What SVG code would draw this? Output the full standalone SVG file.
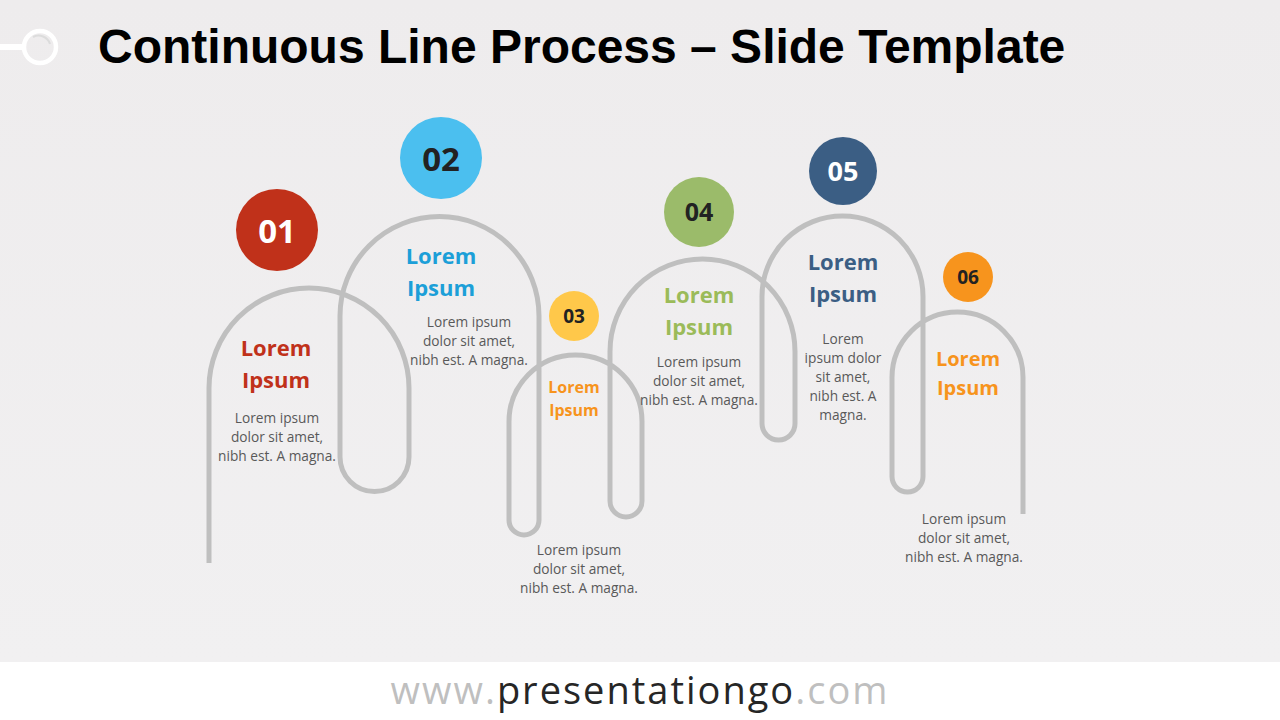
<svg xmlns="http://www.w3.org/2000/svg" width="1280" height="720" viewBox="0 0 1280 720">
<defs>
<linearGradient id="bg" x1="0" y1="0" x2="0" y2="1">
<stop offset="0" stop-color="#eeeced"/>
<stop offset="1" stop-color="#f1f0f1"/>
</linearGradient>
</defs>
<style>
.line{fill:none;stroke:#bfbfbf;stroke-width:5;stroke-linecap:butt}
.num{font-family:"Open Sans","Noto Sans",sans-serif;font-weight:bold;text-anchor:middle}
.head{font-family:"Open Sans","Noto Sans",sans-serif;font-weight:bold;text-anchor:middle}
.body{font-family:"Open Sans","Noto Sans",sans-serif;font-size:13.7px;fill:#595959;text-anchor:middle}
</style>
<rect x="0" y="0" width="1280" height="662" fill="url(#bg)"/>
<rect x="0" y="662" width="1280" height="58" fill="#ffffff"/>
<g id="logo">
<line x1="0" y1="47" x2="24" y2="47" stroke="#ffffff" stroke-width="6"/>
<circle cx="40" cy="47" r="16" fill="none" stroke="#ffffff" stroke-width="4.5"/>
<path d="M33,37 A12,12 0 0 1 50,44" fill="none" stroke="#dcdcdc" stroke-width="2"/>
</g>
<text id="title" x="98" y="63" font-family="'Liberation Sans',Arial,sans-serif" font-weight="bold" font-size="48" fill="#000000">Continuous Line Process – Slide Template</text>
<g id="connectors">
<path class="line" d="M209,563 V388 A100,100 0 0 1 409,388 V457 A34.5,34.5 0 0 1 340,457 V316 A99.5,99.5 0 0 1 539,316 V520 A15,15 0 0 1 509,520 V421.5 A66.5,66.5 0 0 1 642,421.5 V501 A16,16 0 0 1 610,501 V351.5 A92.5,92.5 0 0 1 795,351.5 V423.5 A16.5,16.5 0 0 1 762,423.5 V296.5 A80.5,80.5 0 0 1 923,296.5 V476.5 A15.5,15.5 0 0 1 892,476.5 V377.5 A65.5,65.5 0 0 1 1023,377.5 V514"/>
</g>
<g id="step1">
<circle cx="277" cy="230" r="41" fill="#c0311a"/>
<text class="num" x="277" y="243" font-size="33" fill="#ffffff">01</text>
<text class="head" x="276" y="356" font-size="22" fill="#c0311a">Lorem</text>
<text class="head" x="276" y="388" font-size="22" fill="#c0311a">Ipsum</text>
<text class="body" x="277" y="423">Lorem ipsum</text>
<text class="body" x="277" y="442">dolor sit amet,</text>
<text class="body" x="277" y="461">nibh est. A magna.</text>
</g>
<g id="step2">
<circle cx="441" cy="158" r="41" fill="#4bbfef"/>
<text class="num" x="441" y="171" font-size="33" fill="#222222">02</text>
<text class="head" x="441" y="264" font-size="22" fill="#1c9fd8">Lorem</text>
<text class="head" x="441" y="296" font-size="22" fill="#1c9fd8">Ipsum</text>
<text class="body" x="469" y="327">Lorem ipsum</text>
<text class="body" x="469" y="346">dolor sit amet,</text>
<text class="body" x="469" y="365">nibh est. A magna.</text>
</g>
<g id="step3">
<circle cx="574" cy="316" r="25" fill="#ffc84a"/>
<text class="num" x="574" y="323" font-size="19" fill="#222222">03</text>
<text class="head" x="574" y="393" font-size="16" fill="#f7941d">Lorem</text>
<text class="head" x="574" y="416" font-size="16" fill="#f7941d">Ipsum</text>
<text class="body" x="579" y="555">Lorem ipsum</text>
<text class="body" x="579" y="574">dolor sit amet,</text>
<text class="body" x="579" y="593">nibh est. A magna.</text>
</g>
<g id="step4">
<circle cx="699" cy="212" r="35" fill="#9bbb6a"/>
<text class="num" x="699" y="221" font-size="25" fill="#222222">04</text>
<text class="head" x="699" y="303" font-size="22" fill="#9bbb59">Lorem</text>
<text class="head" x="699" y="335" font-size="22" fill="#9bbb59">Ipsum</text>
<text class="body" x="699" y="367">Lorem ipsum</text>
<text class="body" x="699" y="386">dolor sit amet,</text>
<text class="body" x="699" y="405">nibh est. A magna.</text>
</g>
<g id="step5">
<circle cx="843" cy="171" r="34" fill="#3b5e84"/>
<text class="num" x="843" y="181" font-size="27" fill="#ffffff">05</text>
<text class="head" x="843" y="270" font-size="22" fill="#3b5e84">Lorem</text>
<text class="head" x="843" y="302" font-size="22" fill="#3b5e84">Ipsum</text>
<text class="body" x="843" y="344">Lorem</text>
<text class="body" x="843" y="363">ipsum dolor</text>
<text class="body" x="843" y="382">sit amet,</text>
<text class="body" x="843" y="401">nibh est. A</text>
<text class="body" x="843" y="420">magna.</text>
</g>
<g id="step6">
<circle cx="968" cy="277" r="25" fill="#f7941d"/>
<text class="num" x="968" y="284" font-size="19" fill="#222222">06</text>
<text class="head" x="968" y="366" font-size="20" fill="#f7941d">Lorem</text>
<text class="head" x="968" y="395" font-size="20" fill="#f7941d">Ipsum</text>
<text class="body" x="964" y="524">Lorem ipsum</text>
<text class="body" x="964" y="543">dolor sit amet,</text>
<text class="body" x="964" y="562">nibh est. A magna.</text>
</g>
<text id="footer" x="640" y="704" text-anchor="middle" font-family="'Open Sans','Noto Sans',sans-serif" font-size="38" letter-spacing="2" fill="#bfbfbf">www.<tspan fill="#262626">presentationgo</tspan>.com</text>
</svg>
